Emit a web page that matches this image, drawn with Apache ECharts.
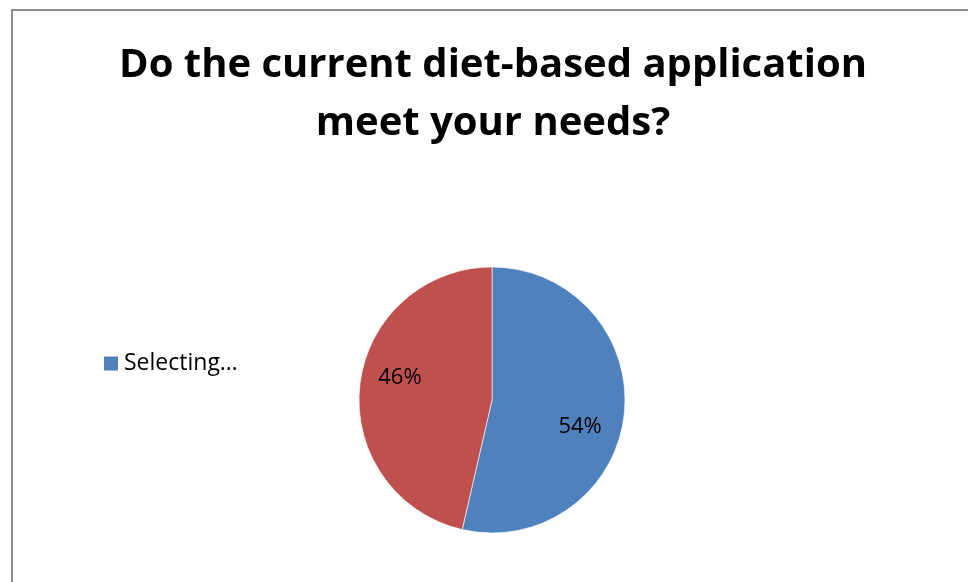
<!DOCTYPE html>
<html>
<head>
<meta charset="utf-8">
<script src="https://cdn.jsdelivr.net/npm/echarts@6/dist/echarts.min.js"></script>
<style>
  html, body { margin: 0; padding: 0; background: #fff; }
  #frame { position: absolute; left: 11px; top: 9px; width: 970px; height: 600px;
           border-left: 2px solid #8e8e8e; border-top: 2px solid #8e8e8e; box-sizing: border-box; }
  #chart { position: absolute; left: 0; top: 0; width: 968px; height: 582px; }
</style>
</head>
<body>
<div id="frame"></div>
<div id="chart"></div>
<script>
// ---- data ----
const titleText = "Do the current diet-based application\nmeet your needs?";
const categories = ["Selecting\u2026", "Other"];
const values = [53.6, 46.4];
const legendItems = ["Selecting\u2026"];
const colors = ["#4F81BD", "#C0504D"];

const FONT = "Open Sans";
const chart = echarts.init(document.getElementById('chart'), null, { renderer: 'canvas' });

const labelShift = [[19, 19], [-23, -14]];

chart.setOption({
  backgroundColor: 'transparent',
  animation: false,
  title: {
    text: titleText,
    left: 488,
    top: 32,
    textAlign: 'center',
    textStyle: {
      fontFamily: FONT,
      fontWeight: 'bold',
      fontSize: 40,
      lineHeight: 58,
      color: '#000'
    }
  },
  legend: {
    data: legendItems,
    orient: 'vertical',
    left: 97,
    top: 347,
    icon: 'rect',
    itemWidth: 16,
    itemHeight: 16,
    itemGap: 10,
    textStyle: { fontFamily: FONT, fontSize: 23, lineHeight: 23, color: '#000', padding: [0, 0, 0, 0] }
  },
  series: [{
    type: 'pie',
    center: [492, 400],
    radius: 133,
    startAngle: 90,
    clockwise: true,
    color: colors,
    itemStyle: { borderColor: '#fff', borderWidth: 0.6 },
    label: {
      show: true,
      position: 'inside',
      fontFamily: FONT,
      fontSize: 22,
      color: '#000',
      formatter: p => Math.round(p.percent) + '%'
    },
    labelLine: { show: false },
    labelLayout: p => ({ dx: labelShift[p.dataIndex][0], dy: labelShift[p.dataIndex][1] }),
    emphasis: { disabled: true },
    data: categories.map((c, i) => ({ name: c, value: values[i] }))
  }]
});
</script>
</body>
</html>
